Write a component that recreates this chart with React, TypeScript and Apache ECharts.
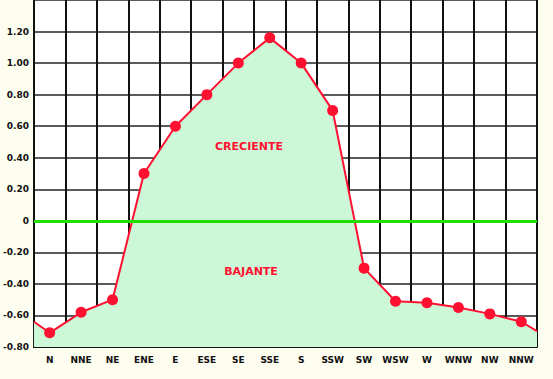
import React, { useEffect, useRef } from "react";
import * as echarts from "echarts";

const categories = ["N", "NNE", "NE", "ENE", "E", "ESE", "SE", "SSE", "S", "SSW", "SW", "WSW", "W", "WNW", "NW", "NNW"];
const values = [-0.71, -0.58, -0.5, 0.3, 0.6, 0.8, 1.0, 1.16, 1.0, 0.7, -0.3, -0.51, -0.52, -0.55, -0.59, -0.64];
const leftEdgeValue = -0.64;
const rightEdgeValue = -0.7;
const upLabel = "CRECIENTE";
const downLabel = "BAJANTE";

export default function App() {
  const ref = useRef<HTMLDivElement>(null);
  useEffect(() => {
    if (!ref.current) return;
    const chart = echarts.init(ref.current, null, { renderer: "svg" });
    const n = categories.length;
    const data: any[] = [];
    data.push({ value: [-0.5, leftEdgeValue], symbol: "none" });
    values.forEach((v, i) => data.push({ value: [i, v] }));
    data.push({ value: [n - 0.5, rightEdgeValue], symbol: "none" });
    const labelFont = { fontFamily: "DejaVu Sans", fontWeight: "bold" as const, fontSize: 9, color: "#111" };
    chart.setOption({
      animation: false,
      backgroundColor: "#fdfdf0",
      grid: { left: 32, top: 0, right: 16, bottom: 32, backgroundColor: "#ffffff", show: true, borderWidth: 0 },
      xAxis: [
        {
          type: "category",
          data: categories,
          boundaryGap: true,
          axisLine: { show: true, onZero: false, lineStyle: { color: "#111", width: 2 } },
          axisTick: { show: false },
          axisLabel: { ...labelFont, margin: 8, interval: 0 },
          splitLine: { show: true, interval: 0, lineStyle: { color: "#111", width: 2 } },
        },
        {
          type: "value",
          min: -0.5,
          max: n - 0.5,
          show: false,
          axisLine: { show: false, onZero: false },
          splitLine: { show: false },
        },
      ],
      yAxis: {
        type: "value",
        min: -0.8,
        max: 1.4,
        interval: 0.2,
        axisLine: { show: true, onZero: false, lineStyle: { color: "#111", width: 2 } },
        axisTick: { show: false },
        axisLabel: {
          ...labelFont,
          margin: 5,
          formatter: (v: number) => {
            if (Math.abs(v - 1.4) < 1e-6) return "";
            if (Math.abs(v) < 1e-6) return "0";
            return v.toFixed(2);
          },
        },
        splitLine: { show: true, lineStyle: { color: "#5a5a5a", width: 2 } },
      },
      series: [
        {
          type: "line",
          xAxisIndex: 1,
          data,
          symbol: "circle",
          symbolSize: 11,
          itemStyle: { color: "#ff1030" },
          lineStyle: { color: "#ff1030", width: 2 },
          areaStyle: { color: "#cdf8d8", opacity: 1, origin: "start" },
          z: 3,
          markLine: {
            silent: true,
            symbol: "none",
            label: { show: false },
            lineStyle: { color: "#22dd00", width: 3, type: "solid" },
            data: [{ yAxis: 0 }],
            z: 4,
          },
        },
      ],
      graphic: [
        {
          type: "text",
          x: 249,
          y: 146,
          style: { text: upLabel, fill: "#ff1030", font: "bold 11px 'DejaVu Sans'", textAlign: "center", textVerticalAlign: "middle" },
          z: 10,
        },
        {
          type: "text",
          x: 251,
          y: 271,
          style: { text: downLabel, fill: "#ff1030", font: "bold 11px 'DejaVu Sans'", textAlign: "center", textVerticalAlign: "middle" },
          z: 10,
        },
      ],
    });
    return () => chart.dispose();
  }, []);
  return <div ref={ref} style={{ width: 553, height: 379, position: "absolute", left: 0, top: 0 }} />;
}
